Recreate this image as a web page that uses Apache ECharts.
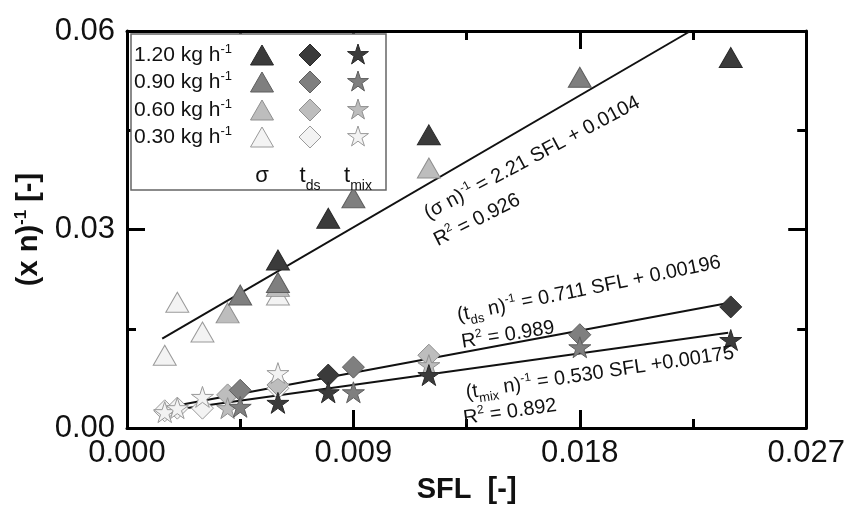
<!DOCTYPE html>
<html>
<head>
<meta charset="utf-8">
<script src="https://cdn.jsdelivr.net/npm/echarts@6/dist/echarts.min.js"></script>
<style>
html,body{margin:0;padding:0;background:#fff;}
#main{width:848px;height:510px;}
</style>
</head>
<body>
<div id="main"></div>
<script>
// SFL values per feed rate (1.20, 0.90, 0.60, 0.30 kg/h)
var sflDark  = [0.006, 0.008, 0.012, 0.024];
var sflMid   = [0.0045, 0.006, 0.009, 0.018];
var sflLight = [0.003, 0.004, 0.006, 0.012];
var sflWhite = [0.0015, 0.002, 0.003, 0.006];

// (sigma n)^-1
var sigDark  = [0.0254, 0.0317, 0.0443, 0.056];
var sigMid   = [0.0201, 0.0220, 0.0348, 0.053];
var sigLight = [null, 0.0174, 0.0214, 0.0393];
var sigWhite = [0.0110, 0.0190, 0.0145, 0.0201];

// (t_ds n)^-1
var tdsDark  = [null, 0.0080, null, 0.0183];
var tdsMid   = [0.0057, null, 0.0092, 0.0141];
var tdsLight = [null, 0.0050, 0.0065, 0.0110];
var tdsWhite = [0.0026, 0.0030, 0.0030, 0.0060];

// (t_mix n)^-1
var mixDark  = [0.0038, 0.0054, 0.0080, 0.0133];
var mixMid   = [0.0032, null, 0.0054, 0.0122];
var mixLight = [null, 0.0030, null, 0.0095];
var mixWhite = [0.0024, 0.0030, 0.0047, 0.0083];

// fitted lines, end points
var fitSig = [[0.0014, 0.0135], [0.0224, 0.0600]];
var fitTds = [[0.0014, 0.0030], [0.0239, 0.0189]];
var fitMix = [[0.0014, 0.0025], [0.0239, 0.0144]];

var xTicks = ['0.000', '0.009', '0.018', '0.027'];
var yTicks = ['0.00', '0.03', '0.06'];
var rateLabels = ['1.20', '0.90', '0.60', '0.30'];

var fills   = ['#3b3b3b', '#7f7f7f', '#bdbdbd', '#f3f3f3'];
var borders = ['#2a2a2a', '#5e5e5e', '#8f8f8f', '#9a9a9a'];

var starPath = 'path://M50 0 L61.2 34.6 L97.6 34.5 L68.1 55.9 L79.4 90.5 L50 69 L20.6 90.5 L31.9 55.9 L2.4 34.5 L38.8 34.6 Z';
var starPts = [[50,0],[61.2,34.6],[97.6,34.5],[68.1,55.9],[79.4,90.5],[50,69],[20.6,90.5],[31.9,55.9],[2.4,34.5],[38.8,34.6]];
var FONT = 'Liberation Sans, Arial, sans-serif';

function pairs(xs, ys){
	var out = [];
	for (var i = 0; i < xs.length; i++) {
		if (ys[i] !== null) out.push([xs[i], ys[i]]);
	}
	return out;
}

window.onload = function(){
	var myChart = echarts.init(document.getElementById('main'));

	var sflAll = [sflDark, sflMid, sflLight, sflWhite];
	var sigAll = [sigDark, sigMid, sigLight, sigWhite];
	var tdsAll = [tdsDark, tdsMid, tdsLight, tdsWhite];
	var mixAll = [mixDark, mixMid, mixLight, mixWhite];

	var series = [];
	[fitSig, fitTds, fitMix].forEach(function(f){
		series.push({
			type: 'line',
			data: f,
			symbol: 'none',
			lineStyle: { color: '#111', width: 2 },
			silent: true,
			z: 1
		});
	});
	// diamonds first, then stars, then triangles; dark drawn last in each group
	var groups = [
		{ vals: tdsAll, symbol: 'diamond', size: [22, 22], z: 2 },
		{ vals: mixAll, symbol: starPath, size: [22, 22], z: 3 },
		{ vals: sigAll, symbol: 'triangle', size: [23, 20], z: 4 }
	];
	groups.forEach(function(g){
		for (var k = 3; k >= 0; k--) {
			series.push({
				type: 'scatter',
				data: pairs(sflAll[k], g.vals[k]),
				symbol: g.symbol,
				symbolSize: g.size,
				symbolKeepAspect: true,
				itemStyle: { color: fills[k], borderColor: borders[k], borderWidth: 1, opacity: 1 },
				z: g.z
			});
		}
	});

	var axisLine = { show: true, onZero: false, lineStyle: { color: '#000', width: 3 } };
	var tick = { show: true, inside: true, length: 18, lineStyle: { color: '#000', width: 3 } };
	var minor = { show: true, splitNumber: 2, length: 9, lineStyle: { color: '#000', width: 3 } };

	// legend graphic
	var legend = [];
	legend.push({
		type: 'rect', shape: { x: 131, y: 34, width: 255, height: 156 },
		style: { fill: '#fff', stroke: '#666', lineWidth: 1.5 }, z: 100
	});
	var rowY = [55, 82, 110, 137];
	var colX = [262, 310, 358];
	for (var r = 0; r < 4; r++) {
		var cy = rowY[r];
		legend.push({
			type: 'text', x: 134, y: cy, z: 101,
			style: {
				text: '{n|' + rateLabels[r] + ' kg h}{s|-1}',
				verticalAlign: 'middle',
				rich: {
					n: { fontSize: 21, fontFamily: FONT, fill: '#111', lineHeight: 24 },
					s: { fontSize: 13, fontFamily: FONT, fill: '#111', verticalAlign: 'top', lineHeight: 13 }
				}
			}
		});
		var c = colX[0];
		legend.push({ type: 'polygon', z: 101,
			shape: { points: [[c - 11.5, cy + 10], [c + 11.5, cy + 10], [c, cy - 10]] },
			style: { fill: fills[r], stroke: borders[r], lineWidth: 1 } });
		c = colX[1];
		legend.push({ type: 'polygon', z: 101,
			shape: { points: [[c, cy - 11], [c + 11, cy], [c, cy + 11], [c - 11, cy]] },
			style: { fill: fills[r], stroke: borders[r], lineWidth: 1 } });
		c = colX[2];
		legend.push({ type: 'polygon', z: 101,
			shape: { points: starPts.map(function(p){ return [c - 11 + p[0] * 0.22, cy - 11 + p[1] * 0.22]; }) },
			style: { fill: fills[r], stroke: borders[r], lineWidth: 1 } });
	}
	var symRich = {
		n: { fontSize: 22, fontFamily: FONT, fill: '#111', lineHeight: 26 },
		b: { fontSize: 14, fontFamily: FONT, fill: '#111', verticalAlign: 'bottom', lineHeight: 14, padding: [0, 0, -4, 0] }
	};
	legend.push({ type: 'text', x: colX[0], y: 176, z: 101,
		style: { text: '{n|σ}', align: 'center', verticalAlign: 'middle', rich: symRich } });
	legend.push({ type: 'text', x: colX[1], y: 176, z: 101,
		style: { text: '{n|t}{b|ds}', align: 'center', verticalAlign: 'middle', rich: symRich } });
	legend.push({ type: 'text', x: colX[2], y: 176, z: 101,
		style: { text: '{n|t}{b|mix}', align: 'center', verticalAlign: 'middle', rich: symRich } });

	// equations along the fits
	var eqRich = {
		n: { fontSize: 20, fontFamily: FONT, fill: '#111', lineHeight: 24 },
		p: { fontSize: 12, fontFamily: FONT, fill: '#111', verticalAlign: 'top', lineHeight: 12 },
		b: { fontSize: 13, fontFamily: FONT, fill: '#111', verticalAlign: 'bottom', lineHeight: 13, padding: [0, 0, -2, 0] }
	};
	function eq(text, x, y, deg){
		return { type: 'text', x: x, y: y, rotation: deg * Math.PI / 180, z: 50,
			style: { text: text, align: 'center', verticalAlign: 'middle', rich: eqRich } };
	}
	var notes = [
		eq('{n|(σ n)}{p|-1}{n| = 2.21 SFL + 0.0104}', 532, 158, 28),
		eq('{n|R}{p|2}{n| = 0.926}', 477, 220, 27),
		eq('{n|(t}{b|ds}{n| n)}{p|-1}{n| = 0.711 SFL + 0.00196}', 589, 289, 11.5),
		eq('{n|R}{p|2}{n| = 0.989}', 508, 335, 9),
		eq('{n|(t}{b|mix}{n| n)}{p|-1}{n| = 0.530 SFL +0.00175}', 600, 373, 8.5),
		eq('{n|R}{p|2}{n| = 0.892}', 510, 412, 8)
	];

	var option = {
		animation: false,
		backgroundColor: '#fff',
		grid: { left: 127, right: 41, top: 31, bottom: 82 },
		xAxis: [{
			type: 'value', min: 0, max: 0.027, interval: 0.009,
			name: 'SFL  [-]', nameLocation: 'middle', nameGap: 47,
			nameTextStyle: { fontSize: 29, fontWeight: 'bold', fontFamily: FONT, color: '#111' },
			axisLine: axisLine, axisTick: tick, minorTick: minor,
			splitLine: { show: false },
			axisLabel: {
				margin: 10, fontSize: 31, fontFamily: FONT, color: '#111',
				formatter: function(v){ return xTicks[Math.round(v / 0.009)]; }
			}
		}, {
			type: 'value', min: 0, max: 0.027, interval: 0.009, position: 'top',
			axisLine: axisLine, axisTick: tick, minorTick: minor,
			splitLine: { show: false }, axisLabel: { show: false }
		}],
		yAxis: [{
			type: 'value', min: 0, max: 0.06, interval: 0.03,
			name: '{n|(x n)}{p|-1}{n| [-]}', nameLocation: 'middle', nameGap: 78, nameRotate: 90,
			nameTextStyle: {
				rich: {
					n: { fontSize: 29, fontWeight: 'bold', fontFamily: FONT, color: '#111', lineHeight: 33 },
					p: { fontSize: 17, fontWeight: 'bold', fontFamily: FONT, color: '#111', verticalAlign: 'top', lineHeight: 17 }
				}
			},
			axisLine: axisLine, axisTick: tick, minorTick: minor,
			splitLine: { show: false },
			axisLabel: {
				margin: 12, fontSize: 31, fontFamily: FONT, color: '#111',
				formatter: function(v){ return yTicks[Math.round(v / 0.03)]; }
			}
		}, {
			type: 'value', min: 0, max: 0.06, interval: 0.03, position: 'right',
			axisLine: axisLine, axisTick: tick, minorTick: minor,
			splitLine: { show: false }, axisLabel: { show: false }
		}],
		graphic: legend.concat(notes),
		series: series
	};

	myChart.setOption(option);
};
</script>
</body>
</html>
